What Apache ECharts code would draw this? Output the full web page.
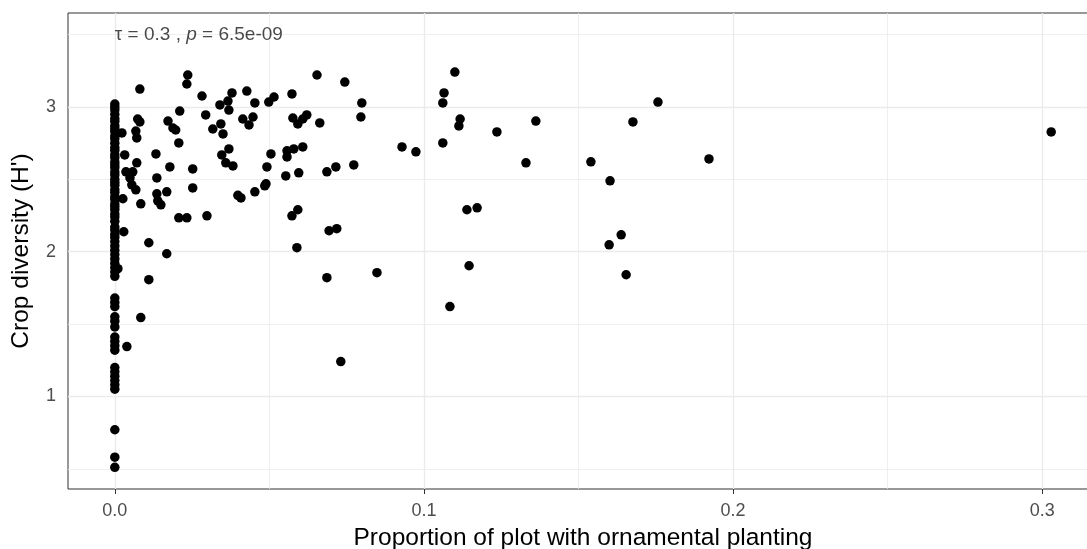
<!DOCTYPE html>
<html>
<head>
<meta charset="utf-8">
<script src="https://cdn.jsdelivr.net/npm/echarts@6/dist/echarts.min.js"></script>
<style>
  html, body { margin: 0; padding: 0; background: #ffffff; }
  #chart { width: 1087px; height: 549px; }
</style>
</head>
<body>
<div id="chart"></div>
<script>
// Axis breaks
const xTicks = [0, 0.1, 0.2, 0.3];
const xTickLabels = ['0.0', '0.1', '0.2', '0.3'];
const xMinor = [0.05, 0.15, 0.25];
const yTicks = [1, 2, 3];
const yTickLabels = ['1', '2', '3'];
const yMinor = [0.5, 1.5, 2.5, 3.5];

// Plots with no ornamental planting: crop diversity only
const zeroDiversity = [
  3.02, 3.00, 2.98, 2.95, 2.92, 2.90, 2.87, 2.85, 2.83, 2.80, 2.78, 2.75,
  2.72, 2.70, 2.67, 2.65, 2.62, 2.60, 2.58, 2.55, 2.53, 2.50, 2.48, 2.46,
  2.43, 2.41, 2.38, 2.36, 2.33, 2.31, 2.29, 2.26, 2.24, 2.21, 2.17, 2.15,
  2.12, 2.10, 2.07, 2.04, 2.01, 1.98, 1.95, 1.92, 1.89, 1.86, 1.83,
  1.68, 1.65, 1.62, 1.55, 1.52, 1.48, 1.41, 1.38, 1.35, 1.32,
  1.20, 1.17, 1.14, 1.11, 1.08, 1.05, 0.77, 0.58, 0.51
];

// Plots with ornamental planting: proportion and crop diversity
const ornProp = [
  0.0081, 0.0236, 0.0233, 0.0210, 0.0172, 0.0074, 0.0081, 0.0188, 0.0197, 0.0068,
  0.0071, 0.0207, 0.0023, 0.0032, 0.0133, 0.0178, 0.0252, 0.0071, 0.0036, 0.0058,
  0.0049, 0.0055, 0.0068, 0.0136, 0.0252, 0.0026, 0.0136, 0.0168, 0.0084, 0.0139,
  0.0149, 0.0207, 0.0233, 0.0029, 0.0110, 0.0168, 0.0110, 0.0010, 0.0084, 0.0039,
  0.0282, 0.0379, 0.0427, 0.0515, 0.0498, 0.0453, 0.0366, 0.0340, 0.0369, 0.0294,
  0.0414, 0.0447, 0.0434, 0.0343, 0.0317, 0.0350, 0.0369, 0.0346, 0.0359, 0.0382,
  0.0505, 0.0492, 0.0489, 0.0398, 0.0408, 0.0453, 0.0485, 0.0298, 0.0654, 0.0744,
  0.0573, 0.0799, 0.0576, 0.0592, 0.0608, 0.0621, 0.0663, 0.0796, 0.0557, 0.0557,
  0.0579, 0.0608, 0.0929, 0.0974, 0.0553, 0.0595, 0.0686, 0.0715, 0.0773, 0.0573,
  0.0592, 0.0693, 0.0718, 0.0589, 0.0686, 0.0848, 0.0731, 0.1100, 0.1065, 0.1061,
  0.1117, 0.1113, 0.1362, 0.1236, 0.1061, 0.1330, 0.1139, 0.1172, 0.1146, 0.1084,
  0.1757, 0.1676, 0.1540, 0.1922, 0.1602, 0.1638, 0.1599, 0.1654, 0.3029
];
const ornDiversity = [
  3.124, 3.221, 3.159, 2.972, 2.903, 2.917, 2.897, 2.855, 2.841, 2.834,
  2.786, 2.752, 2.821, 2.669, 2.676, 2.586, 2.572, 2.614, 2.552, 2.552,
  2.510, 2.462, 2.428, 2.510, 2.441, 2.366, 2.400, 2.414, 2.331, 2.352,
  2.324, 2.234, 2.234, 2.138, 2.062, 1.986, 1.807, 1.883, 1.545, 1.345,
  3.076, 3.097, 3.110, 3.069, 3.034, 3.028, 3.041, 3.014, 2.979, 2.945,
  2.917, 2.931, 2.876, 2.883, 2.848, 2.814, 2.710, 2.669, 2.614, 2.593,
  2.676, 2.586, 2.469, 2.390, 2.372, 2.414, 2.455, 2.248, 3.221, 3.172,
  3.090, 3.028, 2.924, 2.883, 2.917, 2.945, 2.890, 2.931, 2.697, 2.655,
  2.710, 2.724, 2.724, 2.690, 2.524, 2.545, 2.552, 2.586, 2.600, 2.248,
  2.290, 2.145, 2.159, 2.028, 1.821, 1.855, 1.241, 3.241, 3.097, 3.028,
  2.917, 2.869, 2.903, 2.828, 2.752, 2.614, 2.290, 2.303, 1.903, 1.621,
  3.034, 2.897, 2.621, 2.641, 2.490, 2.117, 2.048, 1.841, 2.828
];

// Kendall correlation annotation
const corrPos = [0, 3.5];
const corrTau = '0.3';
const corrP = '6.5e-09';

const points = zeroDiversity.map(v => [0, v])
  .concat(ornProp.map((p, i) => [p, ornDiversity[i]]));

// Axis limits with a 5% pad on each side
const xLo = 0, xHi = 0.3029, yLo = 0.51, yHi = 3.5;
const xPad = (xHi - xLo) * 0.05, yPad = (yHi - yLo) * 0.05;

const gridColor = '#ebebeb';
const gridLines = []
  .concat(xTicks.map(v => ({ xAxis: v, lineStyle: { width: 1.4 } })))
  .concat(xMinor.map(v => ({ xAxis: v, lineStyle: { width: 0.8 } })))
  .concat(yTicks.map(v => ({ yAxis: v, lineStyle: { width: 1.4 } })))
  .concat(yMinor.map(v => ({ yAxis: v, lineStyle: { width: 0.8 } })));

const fontFamily = '"Liberation Sans", Arial, sans-serif';

const chart = echarts.init(document.getElementById('chart'), null, { renderer: 'canvas' });
chart.setOption({
  animation: false,
  backgroundColor: '#ffffff',
  textStyle: { fontFamily },
  grid: {
    left: 68, top: 13, width: 1030, height: 476,
    outerBoundsMode: 'none',
    containLabel: false,
    show: true, borderColor: '#333333', borderWidth: 1, backgroundColor: 'transparent'
  },
  xAxis: {
    type: 'value',
    min: xLo - xPad, max: xHi + xPad,
    name: 'Proportion of plot with ornamental planting',
    nameLocation: 'middle', nameGap: 37,
    nameTextStyle: { fontSize: 24.5, color: '#000000', fontFamily },
    axisLine: { show: false },
    axisTick: {
      show: true, inside: false, length: 5,
      customValues: xTicks,
      lineStyle: { color: '#333333', width: 1 }
    },
    axisLabel: {
      show: true, margin: 13, fontSize: 18, color: '#4d4d4d', fontFamily,
      customValues: xTicks,
      formatter: v => xTickLabels[xTicks.findIndex(t => Math.abs(t - v) < 1e-9)] ?? ''
    },
    splitLine: { show: false }
  },
  yAxis: {
    type: 'value',
    min: yLo - yPad, max: yHi + yPad,
    name: "Crop diversity (H')",
    nameLocation: 'middle', nameGap: 34,
    nameTextStyle: { fontSize: 24.5, color: '#000000', fontFamily },
    axisLine: { show: false },
    axisTick: {
      show: true, inside: false, length: 5,
      customValues: yTicks,
      lineStyle: { color: '#333333', width: 1 }
    },
    axisLabel: {
      show: true, margin: 12, fontSize: 18, color: '#4d4d4d', fontFamily,
      customValues: yTicks,
      formatter: v => yTickLabels[yTicks.findIndex(t => Math.abs(t - v) < 1e-9)] ?? ''
    },
    splitLine: { show: false }
  },
  series: [
    {
      // panel grid lines
      type: 'line',
      data: [],
      z: 1,
      silent: true,
      markLine: {
        silent: true,
        z: 1,
        symbol: ['none', 'none'],
        label: { show: false },
        lineStyle: { color: gridColor, type: 'solid' },
        data: gridLines
      }
    },
    {
      type: 'scatter',
      data: points,
      z: 3,
      symbol: 'circle',
      symbolSize: 9.5,
      itemStyle: { color: '#000000', opacity: 1 },
      silent: true
    },
    {
      // correlation label anchored at its data position
      type: 'scatter',
      data: [corrPos],
      zlevel: 1,
      z: 10,
      symbolSize: 0,
      silent: true,
      label: {
        show: true,
        position: [0, 0],
        align: 'left',
        verticalAlign: 'middle',
        formatter: '{n|\u03c4 = ' + corrTau + ' , }{i|p}{n| = ' + corrP + '}',
        rich: {
          n: { fontSize: 19, color: '#1a1a1a', fontFamily },
          i: { fontSize: 19, color: '#1a1a1a', fontStyle: 'italic', fontFamily }
        }
      }
    }
  ]
});
</script>
</body>
</html>
